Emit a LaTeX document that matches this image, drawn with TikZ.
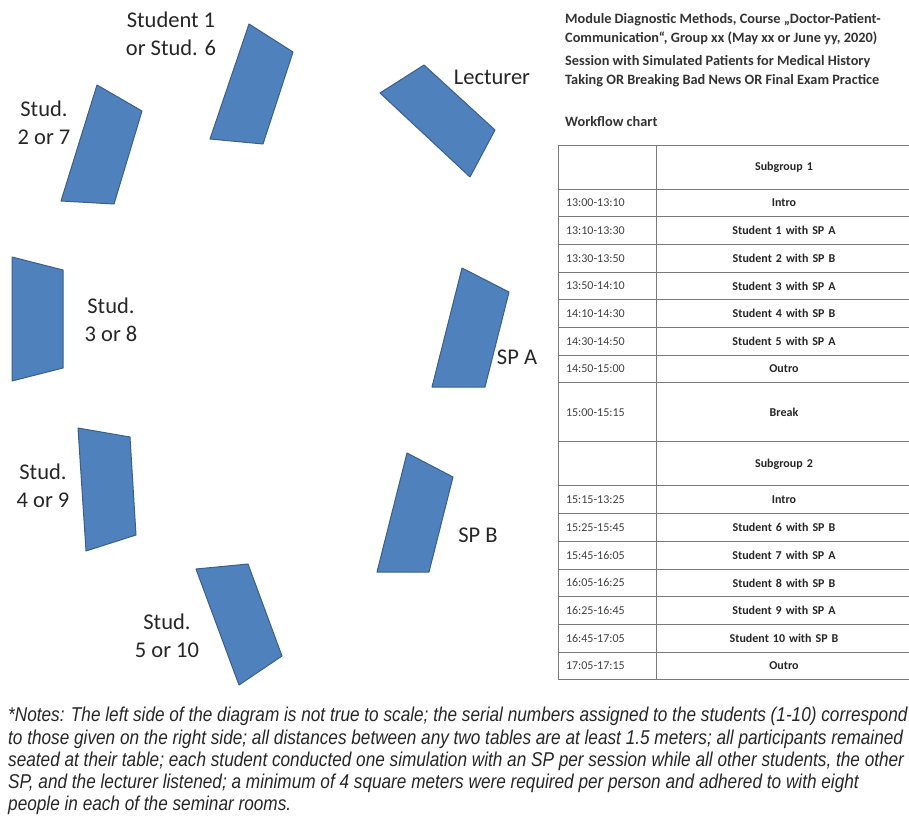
\documentclass[tikz,border=0pt]{standalone}
\usepackage{fontspec}
\setmainfont{Carlito}
\newfontfamily\notefont[FakeStretch=0.86]{Liberation Sans}
\usetikzlibrary{positioning}
\definecolor{deskblue}{HTML}{4F81BD}
\definecolor{deskline}{HTML}{3A5F8B}
\definecolor{rulegray}{HTML}{7A7A7A}

\begin{document}
\begin{tikzpicture}[x=1pt, y=-1pt]
\tikzstyle{desk} = [ fill=deskblue, draw=deskline, line width=1pt, line join=round ]
\tikzstyle{seat} = [ align=center, inner sep=0pt, text=black!85, font=\fontsize{22.5}{27.5}\selectfont ]
\tikzstyle{head} = [ align=left, anchor=north west, inner sep=0pt, text=black!80, font=\bfseries\fontsize{14.3}{19}\selectfont ]
\tikzstyle{timecell} = [ rectangle, draw=rulegray, line width=0.9pt, outer sep=0pt, minimum height=27.7pt, text width=82pt, inner xsep=8pt, inner ysep=0pt, align=left, text=black!75, font=\fontsize{12}{14}\selectfont ]
\tikzstyle{taskcell} = [ rectangle, draw=rulegray, line width=0.9pt, outer sep=0pt, minimum height=27.7pt, text width=240pt, inner xsep=8pt, inner ysep=0pt, align=center, text=black!85, font=\bfseries\fontsize{12}{14}\selectfont ]
\useasboundingbox (0,0) rectangle (909,816);
\clip (0,0) rectangle (909,816);

% desks
\filldraw [desk] (249,24) -- (293,52) -- (263,144) -- (210,139) -- cycle;
\filldraw [desk] (97,85) -- (142,111) -- (114,204) -- (61,201) -- cycle;
\filldraw [desk] (424,65) -- (495,130) -- (470,177) -- (380,93) -- cycle;
\filldraw [desk] (12,257) -- (63,270) -- (63,368) -- (12,381) -- cycle;
\filldraw [desk] (462,268) -- (509,292) -- (485,387) -- (432,387) -- cycle;
\filldraw [desk] (78,428) -- (130,437) -- (136,535) -- (86,551) -- cycle;
\filldraw [desk] (407,453) -- (453,477) -- (429,572) -- (377,572) -- cycle;
\filldraw [desk] (196,569) -- (248,564) -- (282,656) -- (239,685) -- cycle;

% place seat labels
\node [seat] (stud1) at (171,34) {Student 1\\or Stud. 6};
\node [seat] (stud2) at (44,123) {Stud.\\2 or 7};
\node [seat] (lecturer) at (492,77) {Lecturer};
\node [seat] (stud3) at (111,320) {Stud.\\3 or 8};
\node [seat] (spa) at (517,357) {SP A};
\node [seat] (stud4) at (43,486) {Stud.\\4 or 9};
\node [seat] (spb) at (478,535) {SP B};
\node [seat] (stud5) at (167,636) {Stud.\\5 or 10};

% heading
\node [head] (title) at (565,13) {Module Diagnostic Methods, Course „Doctor-Patient-\\Communication“, Group xx (May xx or June yy, 2020)};
\node [head] (session) at (565,55) {Session with Simulated Patients for Medical History\\Taking OR Breaking Bad News OR Final Exam Practice};
\node [head] (workflow) at (565,116) {Workflow chart};

% workflow table
\node [timecell, minimum height=44pt, anchor=north west] (t0) at (558,145) {};
\node [taskcell, minimum height=44pt, right=0pt of t0] (s0) {Subgroup 1};
\node [timecell, below=0pt of t0] (t1) {13:00-13:10};
\node [taskcell, right=0pt of t1] (s1) {Intro};
\node [timecell, below=0pt of t1] (t2) {13:10-13:30};
\node [taskcell, right=0pt of t2] (s2) {Student 1 with SP A};
\node [timecell, below=0pt of t2] (t3) {13:30-13:50};
\node [taskcell, right=0pt of t3] (s3) {Student 2 with SP B};
\node [timecell, below=0pt of t3] (t4) {13:50-14:10};
\node [taskcell, right=0pt of t4] (s4) {Student 3 with SP A};
\node [timecell, below=0pt of t4] (t5) {14:10-14:30};
\node [taskcell, right=0pt of t5] (s5) {Student 4 with SP B};
\node [timecell, below=0pt of t5] (t6) {14:30-14:50};
\node [taskcell, right=0pt of t6] (s6) {Student 5 with SP A};
\node [timecell, below=0pt of t6] (t7) {14:50-15:00};
\node [taskcell, right=0pt of t7] (s7) {Outro};
\node [timecell, minimum height=59pt, below=0pt of t7] (t8) {15:00-15:15};
\node [taskcell, minimum height=59pt, right=0pt of t8] (s8) {Break};
\node [timecell, minimum height=44pt, below=0pt of t8] (t9) {};
\node [taskcell, minimum height=44pt, right=0pt of t9] (s9) {Subgroup 2};
\node [timecell, below=0pt of t9] (t10) {15:15-13:25};
\node [taskcell, right=0pt of t10] (s10) {Intro};
\node [timecell, below=0pt of t10] (t11) {15:25-15:45};
\node [taskcell, right=0pt of t11] (s11) {Student 6 with SP B};
\node [timecell, below=0pt of t11] (t12) {15:45-16:05};
\node [taskcell, right=0pt of t12] (s12) {Student 7 with SP A};
\node [timecell, below=0pt of t12] (t13) {16:05-16:25};
\node [taskcell, right=0pt of t13] (s13) {Student 8 with SP B};
\node [timecell, below=0pt of t13] (t14) {16:25-16:45};
\node [taskcell, right=0pt of t14] (s14) {Student 9 with SP A};
\node [timecell, below=0pt of t14] (t15) {16:45-17:05};
\node [taskcell, right=0pt of t15] (s15) {Student 10 with SP B};
\node [timecell, below=0pt of t15] (t16) {17:05-17:15};
\node [taskcell, right=0pt of t16] (s16) {Outro};

% notes
\node [anchor=north west, align=left, inner sep=0pt, text=black!85, font=\notefont\itshape\fontsize{20}{22.3}\selectfont] (notes) at (8,707) {*Notes: The left side of the diagram is not true to scale; the serial numbers assigned to the students (1-10) correspond\\to those given on the right side; all distances between any two tables are at least 1.5 meters; all participants remained\\seated at their table; each student conducted one simulation with an SP per session while all other students, the other\\SP, and the lecturer listened; a minimum of 4 square meters were required per person and adhered to with eight\\people in each of the seminar rooms.};
\end{tikzpicture}
\end{document}
